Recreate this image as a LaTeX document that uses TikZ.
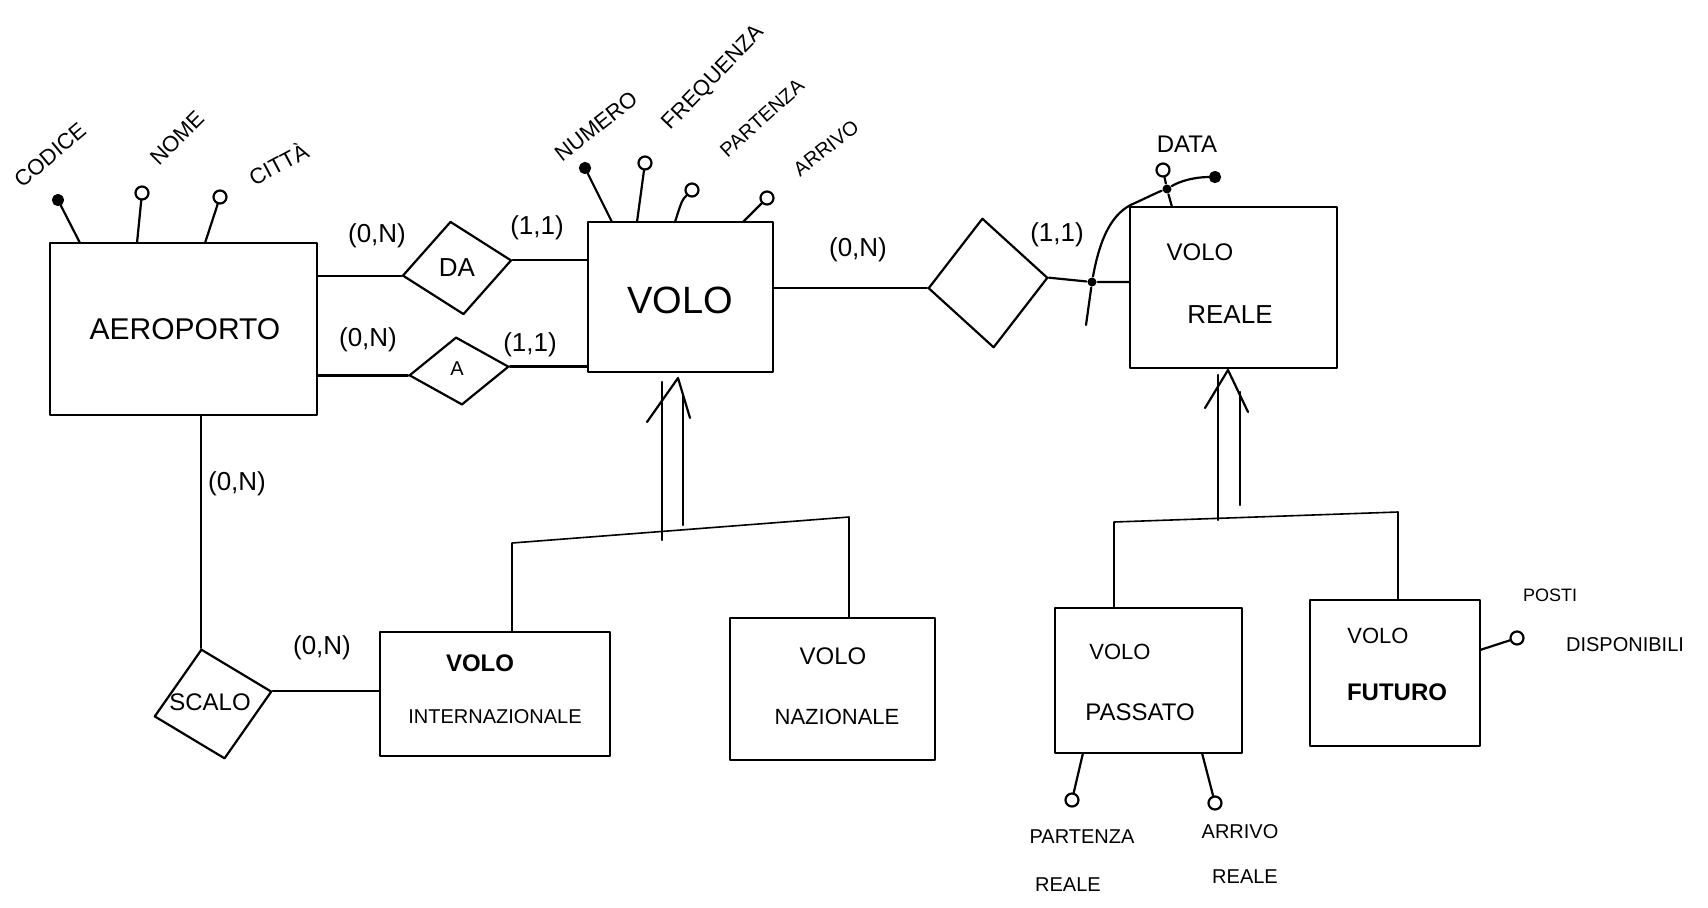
\documentclass[tikz,border=0pt]{standalone}
\usepackage{fontspec}
\setmainfont{Liberation Sans}
\usetikzlibrary{shapes.geometric,calc}
\begin{document}
\begin{tikzpicture}[x=0.5pt,y=-0.5pt,
  line width=1.1pt, line cap=round, line join=round,
  ent/.style={draw, rectangle, inner sep=0pt},
  rel/.style={draw, diamond, inner sep=0pt},
  keyatt/.style={circle, fill=black, draw, inner sep=0pt, minimum size=5pt},
  att/.style={circle, draw, fill=white, inner sep=0pt, minimum size=6.5pt},
  dotj/.style={circle, fill=black, inner sep=0pt, minimum size=4.5pt},
  thin/.style={line width=0.8pt},
  t9/.style={inner sep=0pt, font=\fontsize{9}{10}\selectfont},
  t10/.style={inner sep=0pt, font=\fontsize{10}{11}\selectfont},
  t11/.style={inner sep=0pt, font=\fontsize{11}{12}\selectfont},
  t12/.style={inner sep=0pt, font=\fontsize{12}{13}\selectfont},
  t13/.style={inner sep=0pt, font=\fontsize{13}{14}\selectfont},
  t15/.style={inner sep=0pt, font=\fontsize{15}{16}\selectfont},
  t18/.style={inner sep=0pt, font=\fontsize{19}{20}\selectfont},
]
\useasboundingbox (0,0) rectangle (1708,907);
\fill[white] (0,0) rectangle (1708,907);

% ---------- entities ----------
\node[ent, minimum width=133.5pt, minimum height=86pt] (aero) at (183.5,329) {};
\node[t15] (aerot) at (185,329) {AEROPORTO};
\node[ent, minimum width=92.5pt, minimum height=75pt] (volo) at (680.5,297) {};
\node[t18] (volot) at (680,300) {VOLO};
\node[ent, minimum width=103.5pt, minimum height=80.5pt] (vreale) at (1233.5,287.5) {};
\node[t12] (vrealet1) at (1200,252) {VOLO};
\node[t13] (vrealet2) at (1230,315) {REALE};
\node[ent, minimum width=115pt, minimum height=62pt] (vint) at (495,694) {};
\node[t12, font=\fontsize{12}{13}\selectfont\bfseries] (vintt1) at (480,663) {VOLO};
\node[t10] (vintt2) at (495,717) {INTERNAZIONALE};
\node[ent, minimum width=102.5pt, minimum height=71pt] (vnaz) at (832.5,689) {};
\node[t12] (vnazt1) at (833,656) {VOLO};
\node[t11] (vnazt2) at (837,717) {NAZIONALE};
\node[ent, minimum width=93.5pt, minimum height=72.5pt] (vpass) at (1148.5,680.5) {};
\node[t11] (vpasst1) at (1120,652) {VOLO};
\node[t12] (vpasst2) at (1140,712) {PASSATO};
\node[ent, minimum width=85pt, minimum height=73pt] (vfut) at (1395,673) {};
\node[t11] (vfutt1) at (1378,636) {VOLO};
\node[t12, font=\fontsize{12}{13}\selectfont\bfseries] (vfutt2) at (1397,692) {FUTURO};

% ---------- relationships ----------
\node[rel, minimum width=55pt, minimum height=47pt, rotate=8] (da) at (457,268) {};
\node[t13] (dat) at (457,268) {DA};
\node[rel, minimum width=50pt, minimum height=34pt, rotate=5] (a) at (459,371) {};
\node[t10] (at) at (457,369) {A};
\node[rel, minimum width=60pt, minimum height=65pt, rotate=5] (r) at (988,283) {};
\node[rel, minimum width=60pt, minimum height=56pt, rotate=12] (scalo) at (213,704) {};
\node[t12] (scalot) at (210,702) {SCALO};

% ---------- connectors ----------
\draw (aero.east |- da.west) -- (da.west);
\draw (da.east) -- (da.east -| volo.west);
\draw (aero.east |- a.west) -- (a.west);
\draw (a.east) -- (a.east -| volo.west);
\draw (volo.east |- r.west) -- (r.west);
\node[dotj] (kdot) at (1092,282) {};
\draw (r.east) -- (kdot) -- (kdot -| vreale.west);
\draw (scalo.north |- aero.south) -- (scalo.north);
\draw (scalo.east) -- (scalo.east -| vint.west);

% cardinalities
\node[t13] (c1) at (377,236) {(0,N)};
\node[t13] (c2) at (368,340) {(0,N)};
\node[t13] (c3) at (537,228) {(1,1)};
\node[t13] (c4) at (530,345) {(1,1)};
\node[t13] (c5) at (858,250) {(0,N)};
\node[t13] (c6) at (1057,235) {(1,1)};
\node[t13] (c7) at (237,484) {(0,N)};
\node[t13] (c8) at (322,648) {(0,N)};

% ---------- attributes of AEROPORTO ----------
\node[keyatt] (codice) at (58,200) {};
\node[att] (nome) at (142,193) {};
\node[att] (citta) at (220,197) {};
\coordinate (ae1) at (80,243);
\coordinate (ae2) at (137,243);
\coordinate (ae3) at (205,243);
\draw (codice) -- (ae1);
\draw (nome) -- (ae2);
\draw (citta) -- (ae3);
\node[t11, rotate=40] (codicet) at (50,155) {CODICE};
\node[t11, rotate=45] (nomet) at (177,138) {NOME};
\node[t11, rotate=28] (cittat) at (278,163) {CITTÀ};

% ---------- attributes of VOLO ----------
\node[keyatt] (numero) at (585,168) {};
\node[att] (freq) at (645,163) {};
\node[att] (part) at (692,190) {};
\node[att] (arr) at (767,198) {};
\coordinate (vo1) at (612,222);
\coordinate (vo2) at (637,222);
\coordinate (vo3) at (675,222);
\coordinate (vo4) at (743,222);
\draw (numero) -- (vo1);
\draw (freq) -- (vo2);
\draw (part) .. controls (682,200) .. (vo3);
\draw (arr) -- (vo4);
\node[t11, rotate=38] (numerot) at (596,126) {NUMERO};
\node[t11, rotate=46] (freqt) at (714,78) {FREQUENZA};
\node[t10, rotate=42] (partt) at (762,118) {PARTENZA};
\node[t10, rotate=38] (arrt) at (826,148) {ARRIVO};

% ---------- identifier of VOLO REALE ----------
\coordinate (id0) at (1086,325);
\coordinate (id1) at (1135,203);
\node[dotj] (iddot) at (1167,189) {};
\node[keyatt] (datakey) at (1215,177) {};
\node[att] (data) at (1163,170) {};
\coordinate (vr1) at (1172,207);
\draw (id0) -- (kdot) .. controls (1100,238) and (1112,212) .. (id1)
      .. controls (1148,197) and (1158,192) .. (iddot)
      .. controls (1180,181) and (1195,177) .. (datakey);
\draw (data) -- (iddot) -- (vr1);
\node[t12] (datat) at (1187,144) {DATA};

% ---------- generalization VOLO ----------
\coordinate (g1t) at (678,378);
\coordinate (g1a) at (647,422);
\coordinate (g1b) at (690,418);
\draw (g1a) -- (g1t) -- (g1b);
\coordinate (g1l) at (662,382);
\coordinate (g1lb) at (662,540);
\coordinate (g1r) at (683,395);
\coordinate (g1rb) at (683,525);
\draw (g1l) -- (g1lb);
\draw (g1r) -- (g1rb);
\coordinate (b1l) at (512,543);
\coordinate (b1r) at (849,517);
\draw[thin] (vint.north -| b1l) -- (b1l) -- (b1r) -- (vnaz.north -| b1r);

% ---------- generalization VOLO REALE ----------
\coordinate (g2t) at (1228,370);
\coordinate (g2a) at (1205,408);
\coordinate (g2b) at (1248,412);
\draw (g2a) -- (g2t) -- (g2b);
\coordinate (g2l) at (1218,375);
\coordinate (g2lb) at (1218,520);
\coordinate (g2r) at (1240,392);
\coordinate (g2rb) at (1240,505);
\draw (g2l) -- (g2lb);
\draw (g2r) -- (g2rb);
\coordinate (b2l) at (1114,522);
\coordinate (b2r) at (1398,512);
\draw[thin] (vpass.north -| b2l) -- (b2l) -- (b2r) -- (vfut.north -| b2r);

% ---------- attributes of VOLO PASSATO / FUTURO ----------
\node[att] (partr) at (1072,800) {};
\node[att] (arrr) at (1215,803) {};
\coordinate (vp1) at (1083,753);
\coordinate (vp2) at (1202,753);
\draw (vp1) -- (partr);
\draw (vp2) -- (arrr);
\node[t10] (partrt1) at (1082,837) {PARTENZA};
\node[t10] (partrt2) at (1068,885) {REALE};
\node[t10] (arrrt1) at (1240,832) {ARRIVO};
\node[t10] (arrrt2) at (1245,877) {REALE};

\node[att] (posti) at (1517,638) {};
\coordinate (vf1) at (1480,650);
\draw (vf1) -- (posti);
\node[t9] (postit1) at (1550,595) {POSTI};
\node[t10] (postit2) at (1625,645) {DISPONIBILI};
\end{tikzpicture}
\end{document}
